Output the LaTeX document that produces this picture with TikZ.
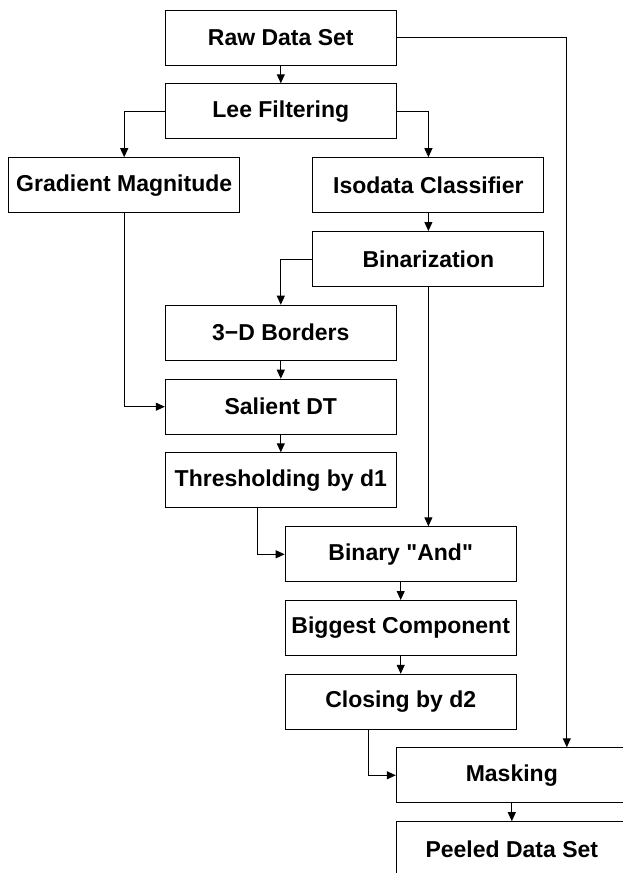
\documentclass[tikz,border=0pt]{standalone}
\usepackage{fontspec}
\setmainfont{Liberation Sans}[Ligatures=TeXOff]
\usetikzlibrary{arrows.meta}

\begin{document}
\begin{tikzpicture}[x=1pt, y=-1pt,
    block/.style={rectangle, draw, line width=1pt, minimum width=231pt, minimum height=55pt, inner sep=0pt, font=\fontsize{23}{27}\selectfont\bfseries},
    >={Triangle[length=9pt, width=8pt]}]
      \useasboundingbox (0,0) rectangle (623,873);
      \node[block] (1) at (280.8, 37.5) {Raw Data Set};
      \node[block] (2) at (280.8, 111.3) {Lee Filtering};
      \node[block] (3) at (124.2, 185.2) {Gradient Magnitude};
      \node[block] (4) at (428.4, 185.2) {Isodata Classifier};
      \node[block] (5) at (428.4, 259) {Binarization};
      \node[block] (6) at (280.8, 332.7) {3−D Borders};
      \node[block] (7) at (280.8, 406.7) {Salient DT};
      \node[block] (8) at (280.8, 480.3) {Thresholding by d1};
      \node[block] (9) at (400.7, 554.3) {Binary "And"};
      \node[block] (10) at (400.7, 628) {Biggest Component};
      \node[block] (11) at (400.7, 701.8) {Closing by d2};
      \node[block] (12) at (511.8, 775.3) {Masking};
      \node[block] (13) at (511.8, 849.2) {Peeled Data Set};

      \foreach \source/\dest in {1/2, 4/5, 6/7, 7/8, 9/10, 10/11, 12/13}
        \draw[->, line width=1pt] (\source) -- (\dest);

      \draw[->, line width=1pt] (2.west) -| (3.north);
      \draw[->, line width=1pt] (2.east) -| (4.north);
      \draw[->, line width=1pt] (5.west) -| (6.north);
      \draw[->, line width=1pt] (5.south) -- (5.south |- 9.north);
      \draw[->, line width=1pt] (3.south) |- (7.west);
      \draw[->, line width=1pt] ([xshift=-23pt]8.south) |- (9.west);
      \draw[->, line width=1pt] ([xshift=-32.5pt]11.south) |- (12.west);
      \draw[->, line width=1pt] (1.east) -| ([xshift=55pt]12.north);
    \end{tikzpicture}
\end{document}
